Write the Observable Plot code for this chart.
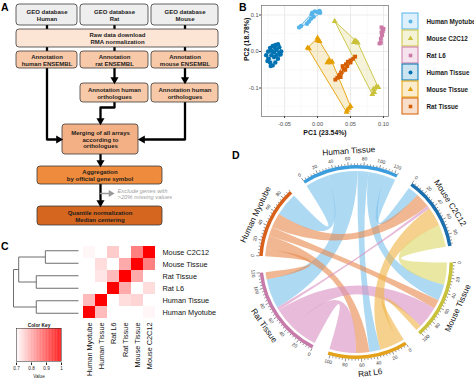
<!DOCTYPE html>
<html><head><meta charset="utf-8">
<script src="https://cdn.jsdelivr.net/npm/d3@7"></script>
<script src="https://cdn.jsdelivr.net/npm/@observablehq/plot@0.6"></script>
<style>
body{margin:0;background:#fff;font-family:"Liberation Sans",Arial,sans-serif;}
#root{position:relative;width:474px;height:384px;overflow:hidden;background:#fff;}
#root svg{overflow:visible;}
.plab{position:absolute;font-weight:bold;font-size:10.5px;line-height:1;color:#000;}
</style></head><body><div id="root"></div><script>
// ================= DATA =================
// Panel A – flowchart
const flowTexts = ["GEO database\nHuman","GEO database\nRat","GEO database\nMouse",
  "Raw data download\nRMA normalization",
  "Annotation\nhuman ENSEMBL","Annotation\nrat ENSEMBL","Annotation\nmouse ENSEMBL",
  "Annotation human\northologues","Annotation human\northologues",
  "Merging of all arrays\naccording to\northologues",
  "Aggregation\nby official gene symbol",
  "Quantile normalization\nMedian centering"];
const flowNote = "Exclude genes with\n>20% missing values";
// Panel B – PCA
const pcaGroups = ["Human Myotube","Mouse C2C12","Rat L6","Human Tissue","Mouse Tissue","Rat Tissue"];
const pcaHumanMyotube = [[-0.028,0.066],[-0.025,0.070],[-0.016,0.076],[-0.013,0.082],[-0.010,0.090],[-0.006,0.095],[-0.009,0.102],[-0.008,0.106],[-0.004,0.110],[0.000,0.108],[0.003,0.111],[0.004,0.106]];
const pcaMouseC2C12 = [[0.026,0.083],[0.055,0.025],[0.057,0.030],[0.059,0.026],[0.061,0.024],[0.085,-0.103],[0.089,-0.097],[0.092,-0.098],[0.083,-0.117],[0.086,-0.112]];
const pcaRatL6 = [[0.097,0.066],[0.100,0.062],[0.099,0.056],[0.097,0.052],[0.098,0.045],[0.096,0.035],[0.094,0.022],[0.096,0.024]];
const pcaHumanTissue = [[-0.078,-0.010],[-0.075,0.000],[-0.072,0.010],[-0.068,0.015],[-0.064,0.018],[-0.060,0.020],[-0.058,0.012],[-0.062,0.005],[-0.066,-0.002],[-0.070,-0.010],[-0.074,-0.020],[-0.072,-0.030],[-0.068,-0.038],[-0.064,-0.030],[-0.060,-0.020],[-0.056,-0.008],[-0.055,0.000],[-0.070,0.002],[-0.066,-0.015],[-0.062,-0.010],[-0.076,-0.026],[-0.071,-0.040],[-0.058,-0.003],[-0.065,0.010]];
const pcaMouseTissue = [[0.000,0.037],[-0.015,0.010],[-0.013,0.008],[0.000,0.030],[0.003,0.028],[0.017,-0.025],[0.020,-0.030],[0.022,-0.028],[0.015,-0.030],[0.045,-0.160],[0.048,-0.155],[0.044,-0.166],[0.050,-0.150]];
const pcaRatTissue = [[0.027,-0.077],[0.030,-0.072],[0.033,-0.065],[0.036,-0.058],[0.040,-0.048],[0.038,-0.040],[0.043,-0.035],[0.046,-0.028],[0.050,-0.024],[0.054,-0.020],[0.057,-0.014],[0.050,-0.030],[0.042,-0.050],[0.035,-0.070],[0.045,-0.040]];
const pcaXTicks = [-0.05,0,0.05,0.10];
const pcaYTicks = [-0.1,0,0.1];
// Panel C – correlation heatmap
const heatRows = ["Mouse C2C12","Mouse Tissue","Rat Tissue","Rat L6","Human Tissue","Human Myotube"];
const heatCols = ["Human Myotube","Human Tissue","Rat L6","Rat Tissue","Mouse Tissue","Mouse C2C12"];
const heatValues = [
  [0.71,0.70,0.76,0.70,0.85,1.00],
  [0.70,0.74,0.70,0.80,1.00,0.85],
  [0.70,0.73,0.78,1.00,0.80,0.70],
  [0.70,0.70,1.00,0.80,0.70,0.74],
  [0.78,1.00,0.70,0.74,0.75,0.70],
  [1.00,0.78,0.70,0.70,0.70,0.71]];
// dendrogram merges: [child A, child B, height]; leaves are row indices, "mK" refers to merge K
const dendroMerges = [[0,1,0.51],[2,3,0.65],["m0","m1",0.92],[4,5,0.65],["m2","m3",1.0]];
const colorKeyTicks = [0.7,0.8,0.9,1];
// Panel D – chord diagram
const chordSectors = ["Human Tissue","Mouse C2C12","Mouse Tissue","Rat L6","Rat Tissue","Human Myotube"];
const chordMatrix = [
  [0,15,22,15,40,32],
  [15,0,30,26,4,20],
  [22,30,0,8,30,12],
  [15,26,8,0,36,18],
  [40,4,30,36,0,10],
  [32,20,12,18,10,0]];
const chordColorPriority = ["Human Tissue","Human Myotube","Rat Tissue","Rat L6","Mouse Tissue"];

// ================= STYLE / LAYOUT =================
const F = '"Liberation Sans", Arial, Helvetica, sans-serif';
const root = document.getElementById("root");
function place(node, left, top){ node.style.position="absolute"; node.style.left=left+"px"; node.style.top=top+"px"; root.appendChild(node); return node; }
function label(t,l,tp){ const d=document.createElement("div"); d.className="plab"; d.textContent=t; place(d,l,tp); }

// ---------- Panel A ----------
const flowLayout = [[16,77,4,25],[80,148,4,25],[151,218,4,25],[16,218,29,47],
  [16,77,51,68],[80,148,51,68],[151,218,51,68],[80,148,83,102],[151,218,83,102],
  [62,138,124,154],[37,162,166,184],[37,162,206,225]];
const flowFill = ["#eeeeee","#eeeeee","#eeeeee","#fde5d5","#f8c9a8","#f8c9a8","#f8c9a8","#f8c9a8","#f8c9a8","#f4b085","#ee8b3d","#d4661f"];
const boxes = flowTexts.map((t,i)=>({text:t,x1:flowLayout[i][0],x2:flowLayout[i][1],y1:flowLayout[i][2],y2:flowLayout[i][3],fill:flowFill[i]}));
const routes = [
 {pts:[[46.5,25],[46.5,29]]},{pts:[[114,25],[114,29]]},{pts:[[184.5,25],[184.5,29]]},
 {pts:[[46.5,47],[46.5,51]]},{pts:[[114,47],[114,51]]},{pts:[[184.5,47],[184.5,51]]},
 {pts:[[46.5,68],[46.5,139],[62,139]],arrow:true},
 {pts:[[114,68],[114,83]],arrow:true},
 {pts:[[184.5,68],[184.5,83]],arrow:true},
 {pts:[[114,102],[114,107],[100,107],[100,124]],arrow:true},
 {pts:[[184.5,102],[184.5,139],[138,139]],arrow:true},
 {pts:[[100,154],[100,166]],arrow:true},
 {pts:[[100,184],[100,206]],arrow:true},
 {pts:[[100,193],[113,193]],arrow:true,gray:true}];
const linePts=[], heads=[];
routes.forEach((r,id)=>{
  const p = r.pts.map(d=>d.slice());
  if (r.arrow){
    const a=p[p.length-2], b=p[p.length-1];
    const dx=Math.sign(b[0]-a[0]), dy=Math.sign(b[1]-a[1]);
    const back = r.gray?2.8:4;
    b[0]-=dx*back; b[1]-=dy*back;
    const rot = dy>0?180:dy<0?0:dx>0?90:-90;
    heads.push({x:b[0],y:b[1],rotate:rot,c:r.gray?"#9a9a9a":"#000",r:r.gray?1.9:2.7});
  }
  p.forEach(q=>linePts.push({id,x:q[0],y:q[1],c:r.gray?"#9a9a9a":"#000",w:r.gray?1.4:2.3}));
});
const plotA = Plot.plot({
  width:230,height:230,margin:0,
  x:{domain:[0,230],range:[0,230],axis:null},
  y:{domain:[0,230],range:[0,230],axis:null},
  style:{fontFamily:F,background:"transparent"},
  marks:[
    Plot.line(linePts,{x:"x",y:"y",z:"id",stroke:d=>d.c,strokeWidth:d=>d.w}),
    Plot.rect(boxes,{x1:"x1",x2:"x2",y1:"y1",y2:"y2",fill:d=>d.fill,stroke:"#3a3a3a",strokeWidth:0.8,rx:3}),
    Plot.dot(heads,{x:"x",y:"y",rotate:"rotate",symbol:"triangle",r:d=>d.r,fill:d=>d.c,stroke:null}),
    Plot.text(boxes,{x:d=>(d.x1+d.x2)/2,y:d=>(d.y1+d.y2)/2,text:"text",fontSize:6,fontWeight:"bold",lineHeight:1.12,fill:"#1c1c1c"}),
    Plot.text([flowNote],{x:()=>117,y:()=>193.5,text:d=>d,textAnchor:"start",fontSize:5.8,fontStyle:"italic",lineHeight:1.15,fill:"#a0a0a0"})
  ]
});
place(plotA,0,0);
label("A",1,2);

// ---------- Panel B ----------
const pcaColors = ["#56B4E9","#C9C23A","#CC79A7","#0072B2","#E69F00","#D55E00"];
const pcaSymbols = ["circle","triangle","square","circle","triangle","square"];
const pcaSets = [pcaHumanMyotube,pcaMouseC2C12,pcaRatL6,pcaHumanTissue,pcaMouseTissue,pcaRatTissue];
const pcaPoints = pcaSets.flatMap((s,i)=>s.map(([x,y])=>({x,y,group:pcaGroups[i]})));
const plotB = Plot.plot({
  width:150,height:140,marginLeft:21,marginRight:2,marginTop:5,marginBottom:24,
  style:{fontFamily:F,fontSize:"5.6px",color:"#4d4d4d",background:"transparent"},
  x:{domain:[-0.085,0.1076]}, y:{domain:[-0.178,0.126]},
  color:{domain:pcaGroups,range:pcaColors},
  symbol:{domain:pcaGroups,range:pcaSymbols},
  marks:[
    Plot.ruleX([-0.075,-0.025,0.025,0.075],{stroke:"#f2f2f2",strokeWidth:0.5}),
    Plot.ruleY([-0.15,-0.05,0.05],{stroke:"#f2f2f2",strokeWidth:0.5}),
    Plot.ruleX(pcaXTicks,{stroke:"#e3e3e3",strokeWidth:0.7}),
    Plot.ruleY(pcaYTicks,{stroke:"#e3e3e3",strokeWidth:0.7}),
    Plot.hull(pcaPoints,{x:"x",y:"y",z:"group",fill:"group",stroke:"group",fillOpacity:0.18,strokeWidth:0.9}),
    Plot.dot(pcaPoints,{x:"x",y:"y",fill:"group",symbol:"group",r:2.2}),
    Plot.frame({stroke:"#7f7f7f",strokeWidth:0.8}),
    Plot.axisX(pcaXTicks,{tickSize:2,tickPadding:4,tickFormat:d=>d.toFixed(2),label:null,stroke:"#444"}),
    Plot.axisY(pcaYTicks,{tickSize:2,tickPadding:1,tickFormat:d=>d.toFixed(1),label:null,stroke:"#444"}),
    Plot.text(["PC1 (23.54%)"],{frameAnchor:"bottom",dy:18,text:d=>d,fontWeight:"bold",fontSize:6.9,fill:"#111"}),
    Plot.text(["PC2 (18.78%)"],{frameAnchor:"left",dx:-15,rotate:-90,text:d=>d,fontWeight:"bold",fontSize:6.9,fill:"#111"})
  ]
});
place(plotB,240,0);
label("B",239,2);
const plotBL = Plot.plot({
  width:79,height:105,margin:0,
  x:{domain:[0,79],range:[0,79],axis:null},
  y:{type:"band",domain:pcaGroups,range:[0,105],padding:0.07,axis:null},
  color:{domain:pcaGroups,range:pcaColors},
  symbol:{domain:pcaGroups,range:pcaSymbols},
  style:{fontFamily:F,background:"transparent"},
  marks:[
    Plot.barX(pcaGroups,{x1:()=>7,x2:()=>23,y:d=>d,fill:d=>d,fillOpacity:0.2,stroke:d=>d,strokeWidth:1}),
    Plot.dot(pcaGroups,{x:()=>15,y:d=>d,fill:d=>d,symbol:d=>d,r:2}),
    Plot.text(pcaGroups,{x:()=>31,y:d=>d,text:d=>d,textAnchor:"start",fontWeight:"bold",fontSize:6.3,fill:"#1a1a1a"})
  ]
});
place(plotBL,395,11);

// ---------- Panel C ----------
const heatCells = heatRows.flatMap((r,i)=>heatCols.map((c,j)=>({row:r,col:c,v:heatValues[i][j]})));
const heatColor = {type:"linear",domain:[0.7,1],range:["#ffffff","#ff0000"],clamp:true};
const plotC = Plot.plot({
  width:240,height:154,marginLeft:80,marginRight:83,marginTop:14,marginBottom:65,
  style:{fontFamily:F,fontSize:"7.3px",color:"#111",background:"transparent"},
  x:{type:"band",domain:heatCols,padding:0,label:null},
  y:{type:"band",domain:heatRows,padding:0,label:null},
  color:heatColor,
  marks:[
    Plot.cell(heatCells,{x:"col",y:"row",fill:"v"}),
    Plot.axisY({anchor:"right",tickSize:0,tickPadding:5,label:null,fontSize:7.3}),
    Plot.axisX({anchor:"bottom",tickSize:0,tickPadding:3,tickRotate:-90,label:null,fontSize:7.3})
  ]
});
place(plotC,0,230);
// dendrogram
const nodes = {};
heatRows.forEach((r,i)=>nodes[i]={y:i,h:0});
const dendroSegs=[];
dendroMerges.forEach(([a,b,h],k)=>{
  const A=nodes[a], B=nodes[b];
  dendroSegs.push({x1:A.h,y1:A.y,x2:h,y2:A.y},{x1:B.h,y1:B.y,x2:h,y2:B.y},{x1:h,y1:A.y,x2:h,y2:B.y});
  nodes["m"+k]={y:(A.y+B.y)/2,h};
});
const plotDen = Plot.plot({
  width:80,height:154,marginLeft:13,marginRight:2,marginTop:14,marginBottom:65,
  x:{domain:[1,0],axis:null}, y:{domain:[5.5,-0.5],axis:null},
  style:{background:"transparent"},
  marks:[Plot.link(dendroSegs,{x1:"x1",y1:"y1",x2:"x2",y2:"y2",stroke:"#6e6e6e",strokeWidth:1})]
});
place(plotDen,0,230);
label("C",1,241);
// colour key
const keySteps = d3.range(0.7,1.0,0.005);
const plotKey = Plot.plot({
  width:60,height:68,marginLeft:6,marginRight:9,marginTop:12,marginBottom:23,
  style:{fontFamily:F,fontSize:"4.6px",color:"#222",background:"transparent"},
  x:{domain:[0.7,1]}, y:{domain:[0,1],axis:null},
  color:heatColor,
  marks:[
    Plot.rect(keySteps,{x1:d=>d,x2:d=>Math.min(1,d+0.0055),y1:()=>0,y2:()=>1,fill:d=>d+0.0025}),
    Plot.frame({stroke:"#222",strokeWidth:0.5}),
    Plot.axisX(colorKeyTicks,{tickSize:2.5,tickPadding:1.5,tickFormat:d=>d===1?"1":d.toFixed(1),label:null,dy:1.5}),
    Plot.text(["Color Key"],{frameAnchor:"top",dy:-4.5,text:d=>d,fontWeight:"bold",fontSize:4.8,fill:"#111"}),
    Plot.text(["Value"],{frameAnchor:"bottom",dy:16,text:d=>d,fontSize:4.6,fill:"#222"})
  ]
});
place(plotKey,10,316);

// ---------- Panel D (chord diagram built with d3.ribbon / d3.arc) ----------
const sectorColor = ["#3b9ddd","#1b6fae","#c8c23a","#e3a21a","#c77bab","#d8601a"];
const ribbonColor = {"Human Tissue":"#7cc1ec","Human Myotube":"#e98a4f","Rat Tissue":"#d991c1","Rat L6":"#f0b448","Mouse Tissue":"#dcd869"};
const n = chordSectors.length;
const padA = 10*Math.PI/180;
const total = d3.sum(chordMatrix.flat());
const kA = (2*Math.PI - n*padA)/total;
let ang = -33*Math.PI/180;
const groups=[], subs={};
for (let i=0;i<n;i++){
  const g0=ang;
  const order = d3.range(n).filter(j=>j!==i && chordMatrix[i][j]>0).sort((p,q)=>((q-i+n)%n)-((p-i+n)%n));
  for (const j of order){ subs[i+"-"+j]={startAngle:ang,endAngle:ang+chordMatrix[i][j]*kA}; ang+=chordMatrix[i][j]*kA; }
  groups.push({index:i,startAngle:g0,endAngle:ang,value:d3.sum(chordMatrix[i])});
  ang+=padA;
}
const chords=[];
for (let i=0;i<n;i++) for (let j=i+1;j<n;j++) if (chordMatrix[i][j]>0){
  const a=chordSectors[i], b=chordSectors[j];
  const pa=chordColorPriority.indexOf(a), pb=chordColorPriority.indexOf(b);
  const owner = (pb<0 || (pa>=0 && pa<pb)) ? a : b;
  chords.push({source:subs[i+"-"+j],target:subs[j+"-"+i],owner});
}
const cx=127, cy=112, rRib=91, rIn=93.5, rOut=97;
const svg = d3.create("svg").attr("width",244).attr("height",234).style("font-family",F);
const gD = svg.append("g").attr("transform",`translate(${cx},${cy})`);
const drawOrder = ["Human Tissue","Human Myotube","Rat Tissue","Rat L6","Mouse Tissue"];
chords.sort((p,q)=>drawOrder.indexOf(p.owner)-drawOrder.indexOf(q.owner));
gD.append("g").selectAll("path").data(chords).join("path")
  .attr("d",d3.ribbon().radius(rRib))
  .attr("fill",d=>ribbonColor[d.owner]).attr("fill-opacity",0.62);
gD.append("g").selectAll("path").data(groups).join("path")
  .attr("d",d3.arc().innerRadius(rIn).outerRadius(rOut))
  .attr("fill",d=>sectorColor[d.index]);
const deg = a=>a*180/Math.PI;
function face(aDeg){ let t=((aDeg%360)+360)%360; return (t>90 && t<270)? t+180 : t; }
const ticks=[];
groups.forEach(g=>{ for(let v=0; v<=g.value+0.01; v+=4){ ticks.push({a:g.startAngle+v*kA,v,major:v%20===0}); } });
gD.append("g").selectAll("line").data(ticks).join("line")
  .attr("x1",d=>rOut*Math.sin(d.a)).attr("y1",d=>-rOut*Math.cos(d.a))
  .attr("x2",d=>(rOut+(d.major?3:1.6))*Math.sin(d.a)).attr("y2",d=>-(rOut+(d.major?3:1.6))*Math.cos(d.a))
  .attr("stroke","#222").attr("stroke-width",0.5);
const rTL=103.5;
gD.append("g").selectAll("text").data(ticks.filter(d=>d.major)).join("text")
  .attr("transform",d=>`translate(${rTL*Math.sin(d.a)},${-rTL*Math.cos(d.a)}) rotate(${face(deg(d.a))})`)
  .attr("text-anchor","middle").attr("dominant-baseline","central")
  .attr("font-size",4.8).attr("fill","#333").text(d=>d.v);
const rName=111.5;
gD.append("g").selectAll("text").data(groups).join("text")
  .attr("transform",d=>{const m=(d.startAngle+d.endAngle)/2; return `translate(${rName*Math.sin(m)},${-rName*Math.cos(m)}) rotate(${face(deg(m))})`;})
  .attr("text-anchor","middle").attr("dominant-baseline","central")
  .attr("font-size",8.3).attr("fill","#111").text(d=>chordSectors[d.index]);
place(svg.node(),229,150);
label("D",232,150);
</script></body></html>
